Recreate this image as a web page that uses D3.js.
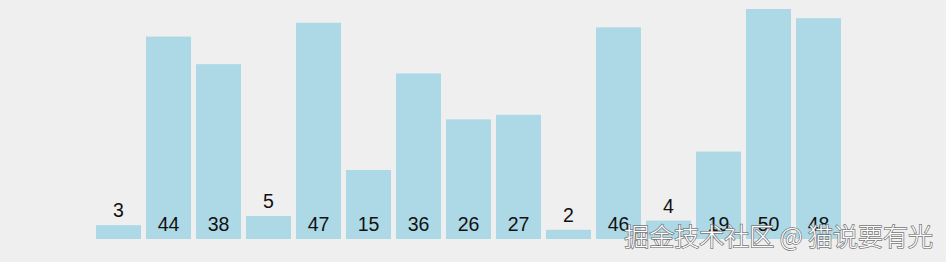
<!DOCTYPE html>
<html>
<head>
<meta charset="utf-8">
<script src="https://cdn.jsdelivr.net/npm/d3@7"></script>
<style>
    body { margin: 0; background: #efefef; }
</style>
</head>
<body>
<div id="container"></div>
<script>
// bar values, left to right
var values = [3, 44, 38, 5, 47, 15, 36, 26, 27, 2, 46, 4, 19, 50, 48];
var indexes = values.map((v, i) => i);
var watermark = "掘金技术社区 @ 猫说要有光";

var width = 946;
var height = 262;

var svg = d3.select("#container")
    .append("svg")
    .attr("width", width)
    .attr("height", height)
    .style("display", "block");

svg.append("rect")
    .attr("width", width)
    .attr("height", height)
    .attr("fill", "#efefef");

var x = d3.scaleBand()
    .domain(indexes)
    .range([96, 841])
    .paddingInner(0.1)
    .paddingOuter(0);

var y = d3.scaleLinear()
    .domain([0, 50])
    .range([239, 9]);

svg.selectAll("rect.bar")
    .data(values)
    .enter()
    .append("rect")
    .attr("class", "bar")
    .attr("x", (d, i) => x(i))
    .attr("y", d => y(d))
    .attr("width", x.bandwidth())
    .attr("height", d => y(0) - y(d))
    .attr("fill", "#add8e6");

//label sits inside the bar unless the bar is too short
svg.selectAll("text.label")
    .data(values)
    .enter()
    .append("text")
    .attr("class", "label")
    .attr("x", (d, i) => x(i) + x.bandwidth() / 2)
    .attr("y", d => (y(0) - y(d) > 25) ? y(0) - 8 : y(d) - 8)
    .attr("text-anchor", "middle")
    .attr("font-family", "'Liberation Sans', Arial, sans-serif")
    .attr("font-size", "19.5px")
    .attr("fill", "#111")
    .text(d => d);

svg.append("text")
    .attr("x", 933)
    .attr("y", 246)
    .attr("text-anchor", "end")
    .attr("font-family", "'Noto Sans CJK SC', sans-serif")
    .attr("font-weight", 300)
    .attr("font-size", "25px")
    .attr("fill", "#fff")
    .attr("stroke", "#777")
    .attr("stroke-width", 1.5)
    .attr("paint-order", "stroke")
    .text(watermark);
</script>
</body>
</html>
